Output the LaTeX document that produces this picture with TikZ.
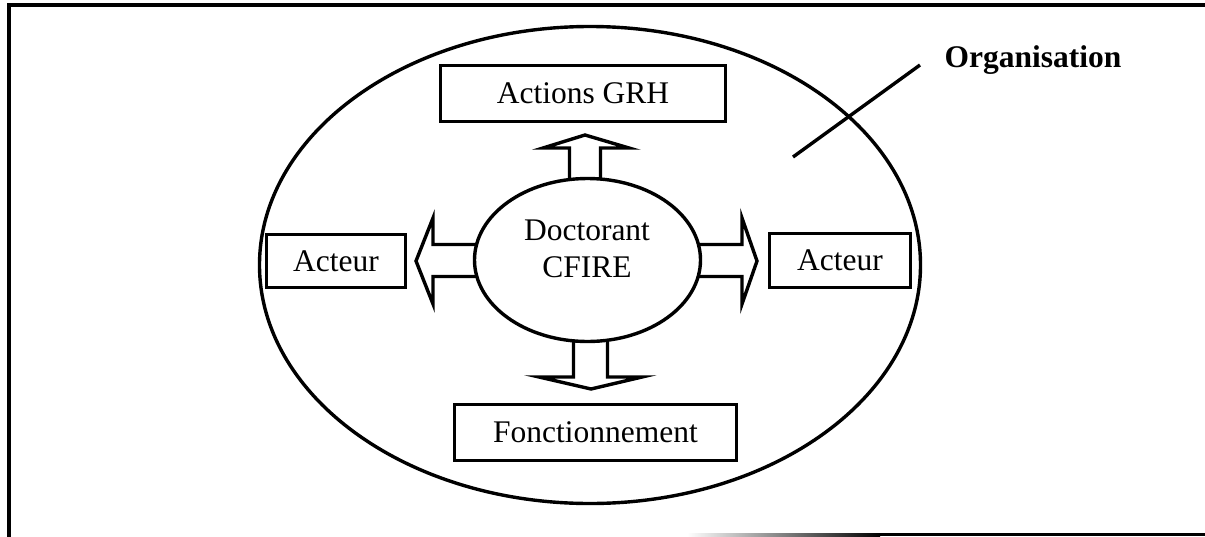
\documentclass[tikz,border=0pt]{standalone}
\usepackage{fontspec}
\setmainfont{Liberation Serif}
\usetikzlibrary{shapes.geometric}
\begin{document}
\begin{tikzpicture}[x=1pt,y=-1pt,line width=3.4pt,
  txt/.style={font=\fontsize{31.5}{37}\selectfont},
  box/.style={draw,line width=3.4pt,inner sep=0pt,txt},
  oval/.style={draw,ellipse,line width=3.4pt,inner sep=0pt},
  blockarrow/.style={draw,line width=3.4pt,fill=white,line join=miter}]
\useasboundingbox (0,0) rectangle (1205,536);
% frame
\draw (8.8,537) -- (8.8,5) -- (1206,5);
\shade[left color=white,right color=black] (687,533) rectangle (880,536);
\fill (880,533) rectangle (1205,536);
% organisation
\node[oval,minimum width=661pt,minimum height=477pt] (org) at (590,265) {};
\node[txt,font=\fontsize{31.5}{37}\selectfont\bfseries,anchor=base west,inner sep=0pt] (orgt) at (943,67) {Organisation};
\coordinate (d1) at (793,157);
\coordinate (d2) at (920,65);
\draw (d1) -- (d2);
% block arrows
\draw[blockarrow] (569.5,185) -- (569.5,148) -- (543,148) -- (585,135) -- (629,148) -- (600.5,148) -- (600.5,185);
\draw[blockarrow] (480,244.5) -- (433,244.5) -- (433,218) -- (416,261) -- (433,304) -- (433,276.5) -- (480,276.5);
\draw[blockarrow] (695,244.5) -- (742,244.5) -- (742,218) -- (757,261) -- (742,304) -- (742,276.5) -- (695,276.5);
\draw[blockarrow] (573.5,335) -- (573.5,377) -- (539,377) -- (591,389) -- (642,377) -- (607.5,377) -- (607.5,335);
% centre
\node[oval,fill=white,minimum width=226pt,minimum height=163pt] (doc) at (587.5,260) {};
\node[txt,align=center,inner sep=0pt] (doct) at (587,249) {Doctorant\\CFIRE};
% boxes
\node[box,minimum width=285pt,minimum height=56pt] (grh) at (583,93.5) {Actions GRH};
\node[box,minimum width=139pt,minimum height=53pt] (ac1) at (336,261) {Acteur\hspace{12pt}};
\node[box,minimum width=141pt,minimum height=54pt] (ac2) at (840,260.5) {Acteur\hspace{14pt}};
\node[box,minimum width=282pt,minimum height=56pt] (fon) at (595.5,432.5) {Fonctionnement};
\end{tikzpicture}
\end{document}
